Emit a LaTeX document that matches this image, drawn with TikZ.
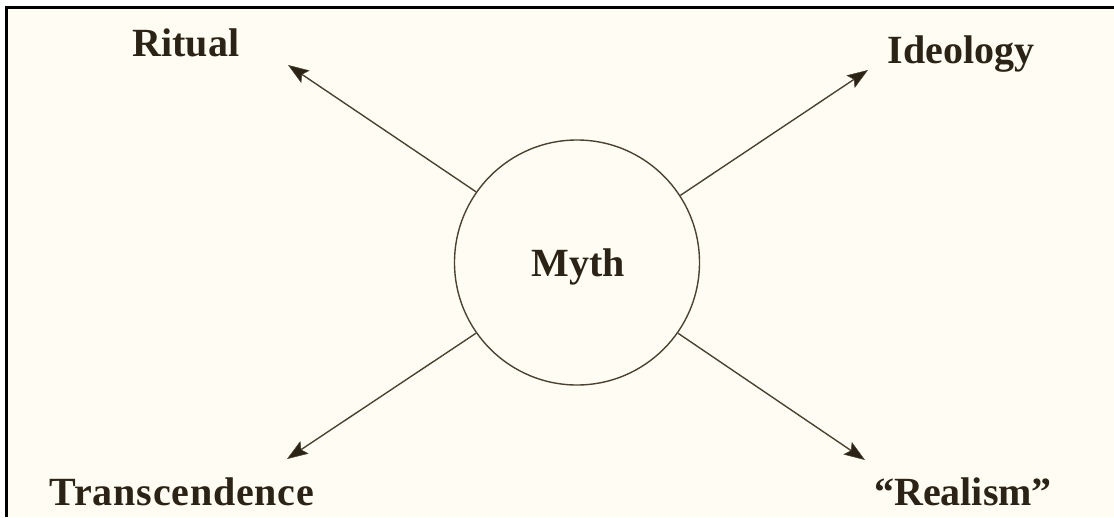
\documentclass[tikz,border=0pt]{standalone}
\usepackage{fontspec}
\setmainfont{Liberation Serif}
\usetikzlibrary{arrows.meta}
\definecolor{paper}{HTML}{FFFDF3}
\definecolor{ink}{HTML}{2B2416}
\definecolor{rule}{HTML}{4A4232}
\tikzset{
  lbl/.style={anchor=base, text=ink, inner sep=0pt, font=\bfseries\fontsize{40}{48}\selectfont},
  conn/.style={draw=rule, line width=1.4pt, -{Stealth[length=21pt, width=15pt, inset=4pt, fill=ink, line width=0.5pt]}},
  mythnode/.style={circle, draw=rule, line width=1.4pt, minimum size=245pt, inner sep=0pt}
}
\begin{document}
\begin{tikzpicture}[x=1pt, y=-1pt]
\useasboundingbox (0,0) rectangle (1114,517);
\fill[white] (0,0) rectangle (1114,517);
\fill[paper] (7,8) rectangle (1114,517);
\draw[black, line width=3pt] (5.5,7.5) -- (1114,7.5);
\draw[black, line width=3pt] (6.5,6) -- (6.5,517);

\node[mythnode] (myth) at (577,262.5) {};
\node[lbl] (mythtext) at (578,276) {Myth};

\node[lbl] (ritual) at (186,56) {Ritual};
\node[lbl] (ideology) at (961,63) {Ideology};
\node[lbl, font=\bfseries\fontsize{40}{48}\selectfont\addfontfeatures{LetterSpace=2}] (trans) at (182,505) {Transcendence};
\node[lbl] (realism) at (963,505) {``Realism''};

\coordinate (tipR) at (288,65);
\coordinate (tipI) at (868,70);
\coordinate (tipT) at (287,459);
\coordinate (tipS) at (865,460);

\draw[conn] (myth.145.5) -- (tipR);
\draw[conn] (myth.33.3) -- (tipI);
\draw[conn] (myth.215) -- (tipT);
\draw[conn] (myth.325) -- (tipS);
\end{tikzpicture}
\end{document}
